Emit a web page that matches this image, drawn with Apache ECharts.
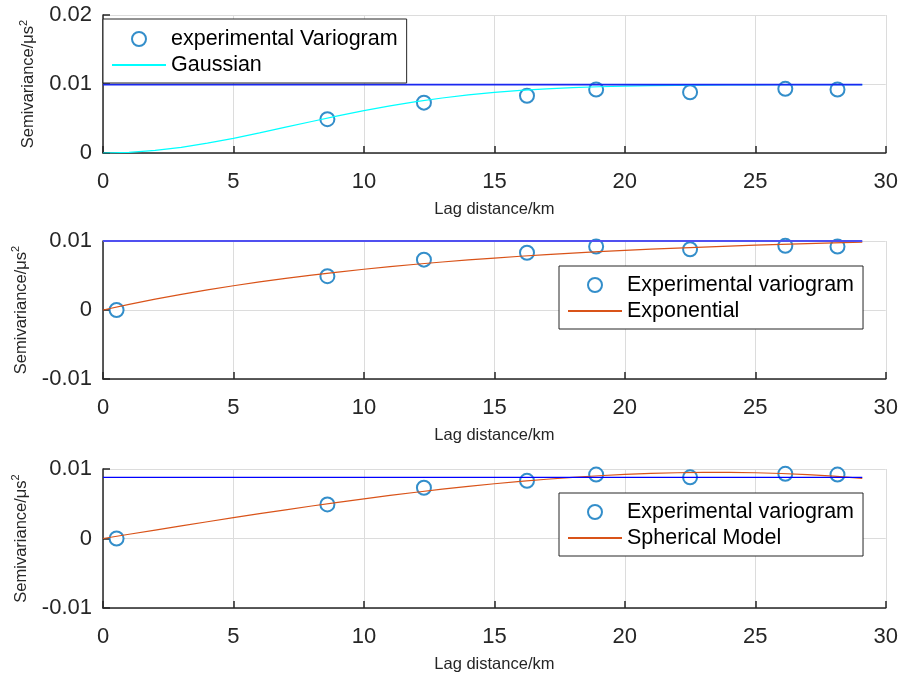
<!DOCTYPE html>
<html>
<head>
<meta charset="utf-8">
<script src="https://cdn.jsdelivr.net/npm/echarts@6/dist/echarts.min.js"></script>
<style>
html,body{margin:0;padding:0;background:#fff;}
#chart{width:901px;height:677px;}
</style>
</head>
<body>
<div id="chart"></div>
<script>
// ---- data ----
const lagKm = [0.52, 8.6, 12.3, 16.25, 18.9, 22.5, 26.15, 28.15];
const expVariogram = [0.0000, 0.0049, 0.0073, 0.0083, 0.0092, 0.0088, 0.0093, 0.0092];

const modelLag = [0, 1, 2, 3, 4, 5, 6, 7, 8, 9, 10, 11, 12, 13, 14, 15, 16, 17, 18, 19, 20, 21, 22, 23, 24, 25, 26, 27, 28, 29.1];
const gaussianFit = [0, 0.000096, 0.000376, 0.000827, 0.001422, 0.00213, 0.002916, 0.00374, 0.00457, 0.00538, 0.00614, 0.00683, 0.00745, 0.00797, 0.00842, 0.00878, 0.00907, 0.0093, 0.00947, 0.0096, 0.00969, 0.00976, 0.00981, 0.00984, 0.00986, 0.00988, 0.00989, 0.00989, 0.0099, 0.0099];
const exponentialFit = [0, 0.000814, 0.001568, 0.002267, 0.002914, 0.003512, 0.004067, 0.00458, 0.005056, 0.005496, 0.005903, 0.006281, 0.00663, 0.006953, 0.007253, 0.007531, 0.007787, 0.008026, 0.008246, 0.008449, 0.008638, 0.008813, 0.008975, 0.009125, 0.009264, 0.009393, 0.009512, 0.009622, 0.009724, 0.009826];
const sphericalFit = [0, 0.000607, 0.001212, 0.001813, 0.002407, 0.002992, 0.003567, 0.004128, 0.004673, 0.005202, 0.00571, 0.006196, 0.006658, 0.007094, 0.007501, 0.007877, 0.00822, 0.008528, 0.008799, 0.00903, 0.009219, 0.009364, 0.009463, 0.009514, 0.009513, 0.009461, 0.009353, 0.009187, 0.008963, 0.008645];

const sillLag = [0, 29.1];
const sillGaussian = 0.0099;
const sillExponential = 0.0100;
const sillSpherical = 0.0088;

const xTicks = [0, 5, 10, 15, 20, 25, 30];
const yRanges = [[0, 0.02], [-0.01, 0.01], [-0.01, 0.01]];

const legendNames = [
  ['experimental Variogram', 'Gaussian'],
  ['Experimental variogram', 'Exponential'],
  ['Experimental variogram', 'Spherical Model']
];

// ---- build options ----
const pair = (xs, ys) => xs.map((x, i) => [x, ys[i]]);
const TXT = '#262626';
const GRIDC = '#dcdcdc';
const FONT = 'Liberation Sans, Arial, Helvetica, sans-serif';

const grids = [
  {left: 103, right: 14, top: 15, height: 138},
  {left: 103, right: 14, top: 241, height: 138},
  {left: 103, right: 14, top: 469, height: 139}
];

const xAxes = grids.map((g, i) => ({
  type: 'value', gridIndex: i, min: xTicks[0], max: xTicks[xTicks.length - 1], interval: xTicks[1] - xTicks[0],
  name: 'Lag distance/km', nameLocation: 'middle', nameGap: 48,
  nameTextStyle: {fontSize: 16.5, color: TXT, fontFamily: FONT},
  axisLine: {onZero: false, lineStyle: {color: TXT, width: 1.5}},
  axisTick: {inside: true, length: 7, lineStyle: {color: TXT, width: 1.5}},
  axisLabel: {fontSize: 22, color: TXT, fontFamily: FONT, margin: 18},
  splitLine: {show: true, lineStyle: {color: GRIDC, width: 1}}
}));

const yAxes = grids.map((g, i) => ({
  type: 'value', gridIndex: i, min: yRanges[i][0], max: yRanges[i][1], interval: 0.01,
  name: 'Semivariance/μs{sup|2}', nameLocation: 'middle', nameGap: 61,
  nameTextStyle: {fontSize: 16.5, color: TXT, fontFamily: FONT, lineHeight: 20,
    rich: {sup: {fontSize: 11, color: TXT, fontFamily: FONT, verticalAlign: 'top', lineHeight: 12, padding: [0, 0, 6, 0]}}},
  axisLine: {onZero: false, lineStyle: {color: TXT, width: 1.5}},
  axisTick: {inside: true, length: 7, lineStyle: {color: TXT, width: 1.5}},
  axisLabel: {fontSize: 22, color: TXT, fontFamily: FONT, margin: 11,
    formatter: v => (Math.abs(v) < 1e-12 ? '0' : (+v.toFixed(4)).toString())},
  splitLine: {show: true, lineStyle: {color: GRIDC, width: 1}}
}));

const scatterStyle = (i, name, pts) => ({
  type: 'scatter', name: name, xAxisIndex: i, yAxisIndex: i,
  symbol: 'emptyCircle', symbolSize: 14, data: pts, z: 3,
  itemStyle: {color: '#0072BD', borderColor: '#0072BD', borderWidth: 1.1}
});
const lineStyle = (i, name, data, color, width, z) => ({
  type: 'line', name: name, xAxisIndex: i, yAxisIndex: i, data: data,
  symbol: 'none', showSymbol: false, smooth: false, z: z, silent: true,
  lineStyle: {color: color, width: width},
  itemStyle: {color: 'rgba(0,0,0,0)', borderColor: 'rgba(0,0,0,0)', borderWidth: 0, opacity: 0}
});

const series = [
  scatterStyle(0, legendNames[0][0], pair(lagKm.slice(1), expVariogram.slice(1))),
  lineStyle(0, legendNames[0][1], pair(modelLag, gaussianFit), '#00FFFF', 1.2, 4),
  lineStyle(0, 'sill1', pair(sillLag, [sillGaussian, sillGaussian]), '#1a28f0', 1.8, 5),

  scatterStyle(1, legendNames[1][0], pair(lagKm, expVariogram)),
  lineStyle(1, legendNames[1][1], pair(modelLag, exponentialFit), '#D95319', 1.2, 4),
  lineStyle(1, 'sill2', pair(sillLag, [sillExponential, sillExponential]), '#5050f0', 2, 5),

  scatterStyle(2, legendNames[2][0], pair(lagKm, expVariogram)),
  lineStyle(2, legendNames[2][1], pair(modelLag, sphericalFit), '#D95319', 1.2, 4),
  lineStyle(2, 'sill3', pair(sillLag, [sillSpherical, sillSpherical]), '#0000ff', 1.3, 5)
];

const legendPos = [
  {left: 103, top: 19, padding: [7, 9, 5, 8]},
  {left: 559, top: 266, padding: [6, 9, 5, 8]},
  {left: 559, top: 493, padding: [6, 9, 5, 8]}
];
const legends = legendPos.map((p, i) => ({
  left: p.left, top: p.top, padding: p.padding, orient: 'vertical',
  data: legendNames[i], itemWidth: 54, itemHeight: 14, itemGap: 0,
  backgroundColor: '#ffffff', borderColor: TXT, borderWidth: 1, borderRadius: 0,
  selectedMode: false, z: 10,
  textStyle: {fontSize: 21.5, color: '#000', fontFamily: FONT, lineHeight: 26, padding: [0, 0, 0, 0]}
}));

const chart = echarts.init(document.getElementById('chart'), null, {renderer: 'canvas'});
chart.setOption({
  animation: false,
  backgroundColor: '#ffffff',
  grid: grids,
  xAxis: xAxes,
  yAxis: yAxes,
  legend: legends,
  series: series
});
</script>
</body>
</html>
